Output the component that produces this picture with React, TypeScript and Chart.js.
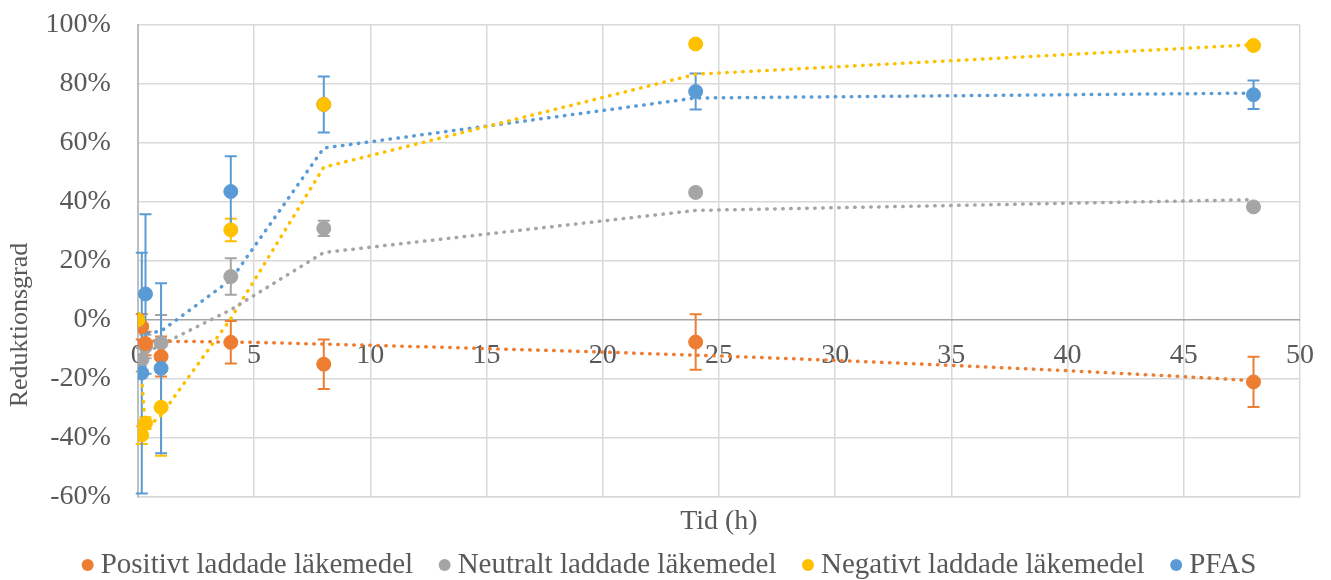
import { useEffect, useRef } from "react";
import { Chart, registerables } from "chart.js";

Chart.register(...registerables);

// ---- Data ----
const times = [0, 0.17, 0.33, 1, 4, 8, 24, 48];

const seriesNames = [
  "Positivt laddade läkemedel",
  "Neutralt laddade läkemedel",
  "Negativt laddade läkemedel",
  "PFAS",
];

const positiveValues = [0, -2.3, -8, -12.4, -7.6, -15, -7.5, -21];
const positiveErrors = [0, 4.3, 4, 6.8, 7.2, 8.4, 9.4, 8.5];

const neutralValues = [0, -13.5, -9, -7.8, 14.7, 31, 43.2, 38.3];
const neutralErrors = [0, 4, 4, 9.5, 6.2, 2.6, 1.2, 1.2];

const negativeValues = [0, -39, -35, -29.6, 30.5, 73, 93.5, 93];
const negativeErrors = [0, 3, 2, 16.4, 3.8, 1, 0.5, 0.5];

const pfasValues = [0, -18, 8.8, -16.4, 43.5, 73, 77.4, 76.3];
const pfasErrors = [0, 40.8, 27, 28.8, 12, 9.5, 6.1, 4.85];

// Trendline of the positive series
const positiveTrendX = [0, 5, 10, 15, 20, 25, 30, 35, 40, 45, 48];
const positiveTrendY = [-7.1, -7.6, -8.6, -9.7, -10.9, -12.2, -13.7, -15.4, -17.2, -19.2, -20.6];

const xTickMin = 0;
const xTickMax = 50;
const xTickStep = 5;
const yTickMin = -60;
const yTickMax = 100;
const yTickStep = 20;

const xTitle = "Tid (h)";
const yTitle = "Reduktionsgrad";

// ---- Style ----
const colors = ["#ED7D31", "#A5A5A5", "#FFC000", "#5B9BD5"];
const markerOrder = [3, 4, 1, 2];
const FONT = "'Liberation Serif', 'Times New Roman', serif";
const TEXT = "#595959";
const FS = 28;

const allValues = [positiveValues, neutralValues, negativeValues, pfasValues];
const allErrors = [positiveErrors, neutralErrors, negativeErrors, pfasErrors];

// 2-period moving average trendline (as in Excel)
function movingAverage(values: number[]) {
  const pts: { x: number; y: number }[] = [];
  for (let i = 1; i < values.length; i++) {
    pts.push({ x: times[i], y: (values[i - 1] + values[i]) / 2 });
  }
  return pts;
}

const errorBarPlugin = {
  id: "errorBars",
  beforeDatasetsDraw(chart: any) {
    const { ctx, scales } = chart;
    const xs = scales.x;
    const ys = scales.y;
    ctx.save();
    ctx.lineWidth = 2;
    allValues.forEach((vals, s) => {
      ctx.strokeStyle = colors[s];
      vals.forEach((v, j) => {
        const e = allErrors[s][j];
        if (!e) return;
        const px = xs.getPixelForValue(times[j]);
        const top = ys.getPixelForValue(v + e);
        const bot = ys.getPixelForValue(v - e);
        ctx.beginPath();
        ctx.moveTo(px, top);
        ctx.lineTo(px, bot);
        ctx.moveTo(px - 6, top);
        ctx.lineTo(px + 6, top);
        ctx.moveTo(px - 6, bot);
        ctx.lineTo(px + 6, bot);
        ctx.stroke();
      });
    });
    ctx.restore();
  },
};

const textPlugin = {
  id: "extraText",
  beforeDatasetsDraw(chart: any) {
    const { ctx, scales } = chart;
    const xs = scales.x;
    const ys = scales.y;
    const y0 = ys.getPixelForValue(0);
    ctx.save();
    ctx.font = `${FS}px ${FONT}`;
    ctx.fillStyle = TEXT;
    ctx.textAlign = "center";
    ctx.textBaseline = "middle";
    xs.ticks.forEach((t: any) => {
      ctx.fillText(String(t.value), xs.getPixelForValue(t.value), y0 + 36);
    });
    ctx.restore();
  },
  afterDraw(chart: any) {
    const { ctx } = chart;
    // y-axis title
    ctx.save();
    ctx.font = `26px ${FONT}`;
    ctx.fillStyle = TEXT;
    ctx.textAlign = "center";
    ctx.textBaseline = "middle";
    ctx.translate(20, 325);
    ctx.rotate(-Math.PI / 2);
    ctx.fillText(yTitle, 0, 0);
    ctx.restore();

    // legend
    ctx.save();
    ctx.font = `29px ${FONT}`;
    ctx.textBaseline = "middle";
    ctx.textAlign = "left";
    const r = 6;
    const markerToText = 13;
    const itemGap = 31.5;
    const widths = seriesNames.map((n) => ctx.measureText(n).width);
    const total =
      r + widths.reduce((a, w) => a + markerToText + w, 0) + itemGap * (seriesNames.length - 1);
    let cx = 669 - total / 2 + r;
    const cy = 565;
    seriesNames.forEach((name, i) => {
      ctx.fillStyle = colors[i];
      ctx.beginPath();
      ctx.arc(cx, cy, r, 0, Math.PI * 2);
      ctx.fill();
      ctx.fillStyle = TEXT;
      ctx.fillText(name, cx + markerToText, cy);
      cx += markerToText + widths[i] + itemGap;
    });
    ctx.restore();
  },
};

export default function App() {
  const ref = useRef<HTMLCanvasElement>(null);

  useEffect(() => {
    const canvas = ref.current;
    if (!canvas) return;

    const markerSets = allValues.map((vals, s) => ({
      type: "scatter" as const,
      label: seriesNames[s],
      data: vals.map((v, j) => ({ x: times[j], y: v })),
      backgroundColor: colors[s],
      borderColor: colors[s],
      borderWidth: 1,
      pointRadius: 7,
      showLine: false,
      order: markerOrder[s],
    }));

    const trendStyle = (c: string) => ({
      type: "line" as const,
      borderColor: c,
      backgroundColor: c,
      borderWidth: 3.5,
      borderDash: [0.5, 7.5],
      borderCapStyle: "round" as const,
      pointRadius: 0,
      showLine: true,
      fill: false,
      tension: 0,
      order: 10,
    });

    const trendSets = [
      {
        ...trendStyle(colors[0]),
        label: "trend0",
        data: positiveTrendX.map((x, i) => ({ x, y: positiveTrendY[i] })),
      },
      { ...trendStyle(colors[1]), label: "trend1", data: movingAverage(neutralValues) },
      { ...trendStyle(colors[2]), label: "trend2", data: movingAverage(negativeValues) },
      { ...trendStyle(colors[3]), label: "trend3", data: movingAverage(pfasValues) },
    ];

    const chart = new Chart(canvas, {
      type: "scatter",
      data: { datasets: [...markerSets, ...trendSets] as any },
      options: {
        responsive: true,
        maintainAspectRatio: false,
        animation: false,
        events: [],
        layout: { padding: { left: 37.5, right: 31, top: 7, bottom: 38.4 } },
        scales: {
          x: {
            type: "linear",
            min: xTickMin,
            max: xTickMax,
            ticks: { stepSize: xTickStep, display: false },
            grid: { color: "#d9d9d9", lineWidth: 1.5, drawTicks: false },
            border: { color: "#d9d9d9", width: 1.5 },
            title: {
              display: true,
              text: xTitle,
              color: TEXT,
              font: { family: FONT, size: FS },
              padding: { top: 8, bottom: 3 },
            },
          },
          y: {
            type: "linear",
            min: yTickMin,
            max: yTickMax,
            ticks: {
              stepSize: yTickStep,
              color: TEXT,
              font: { family: FONT, size: FS },
              padding: 8,
              callback: (v: any) => `${v}%`,
            },
            grid: {
              color: (c: any) => (c.tick && c.tick.value === 0 ? "#a6a6a6" : "#d9d9d9"),
              lineWidth: 1.5,
              drawTicks: true,
              tickLength: 19,
              tickColor: "rgba(0,0,0,0)",
            },
            border: { color: "#bfbfbf", width: 2 },
          },
        },
        plugins: {
          tooltip: { enabled: false },
          title: { display: false },
          legend: { display: false },
        },
      },
      plugins: [errorBarPlugin, textPlugin],
    });

    return () => chart.destroy();
  }, []);

  return (
    <div
      style={{
        position: "fixed",
        left: 0,
        top: 0,
        width: 1331,
        height: 580,
        overflow: "hidden",
        background: "#fff",
      }}
    >
      <div style={{ position: "relative", width: 1331, height: 580 }}>
        <canvas ref={ref} />
      </div>
    </div>
  );
}
